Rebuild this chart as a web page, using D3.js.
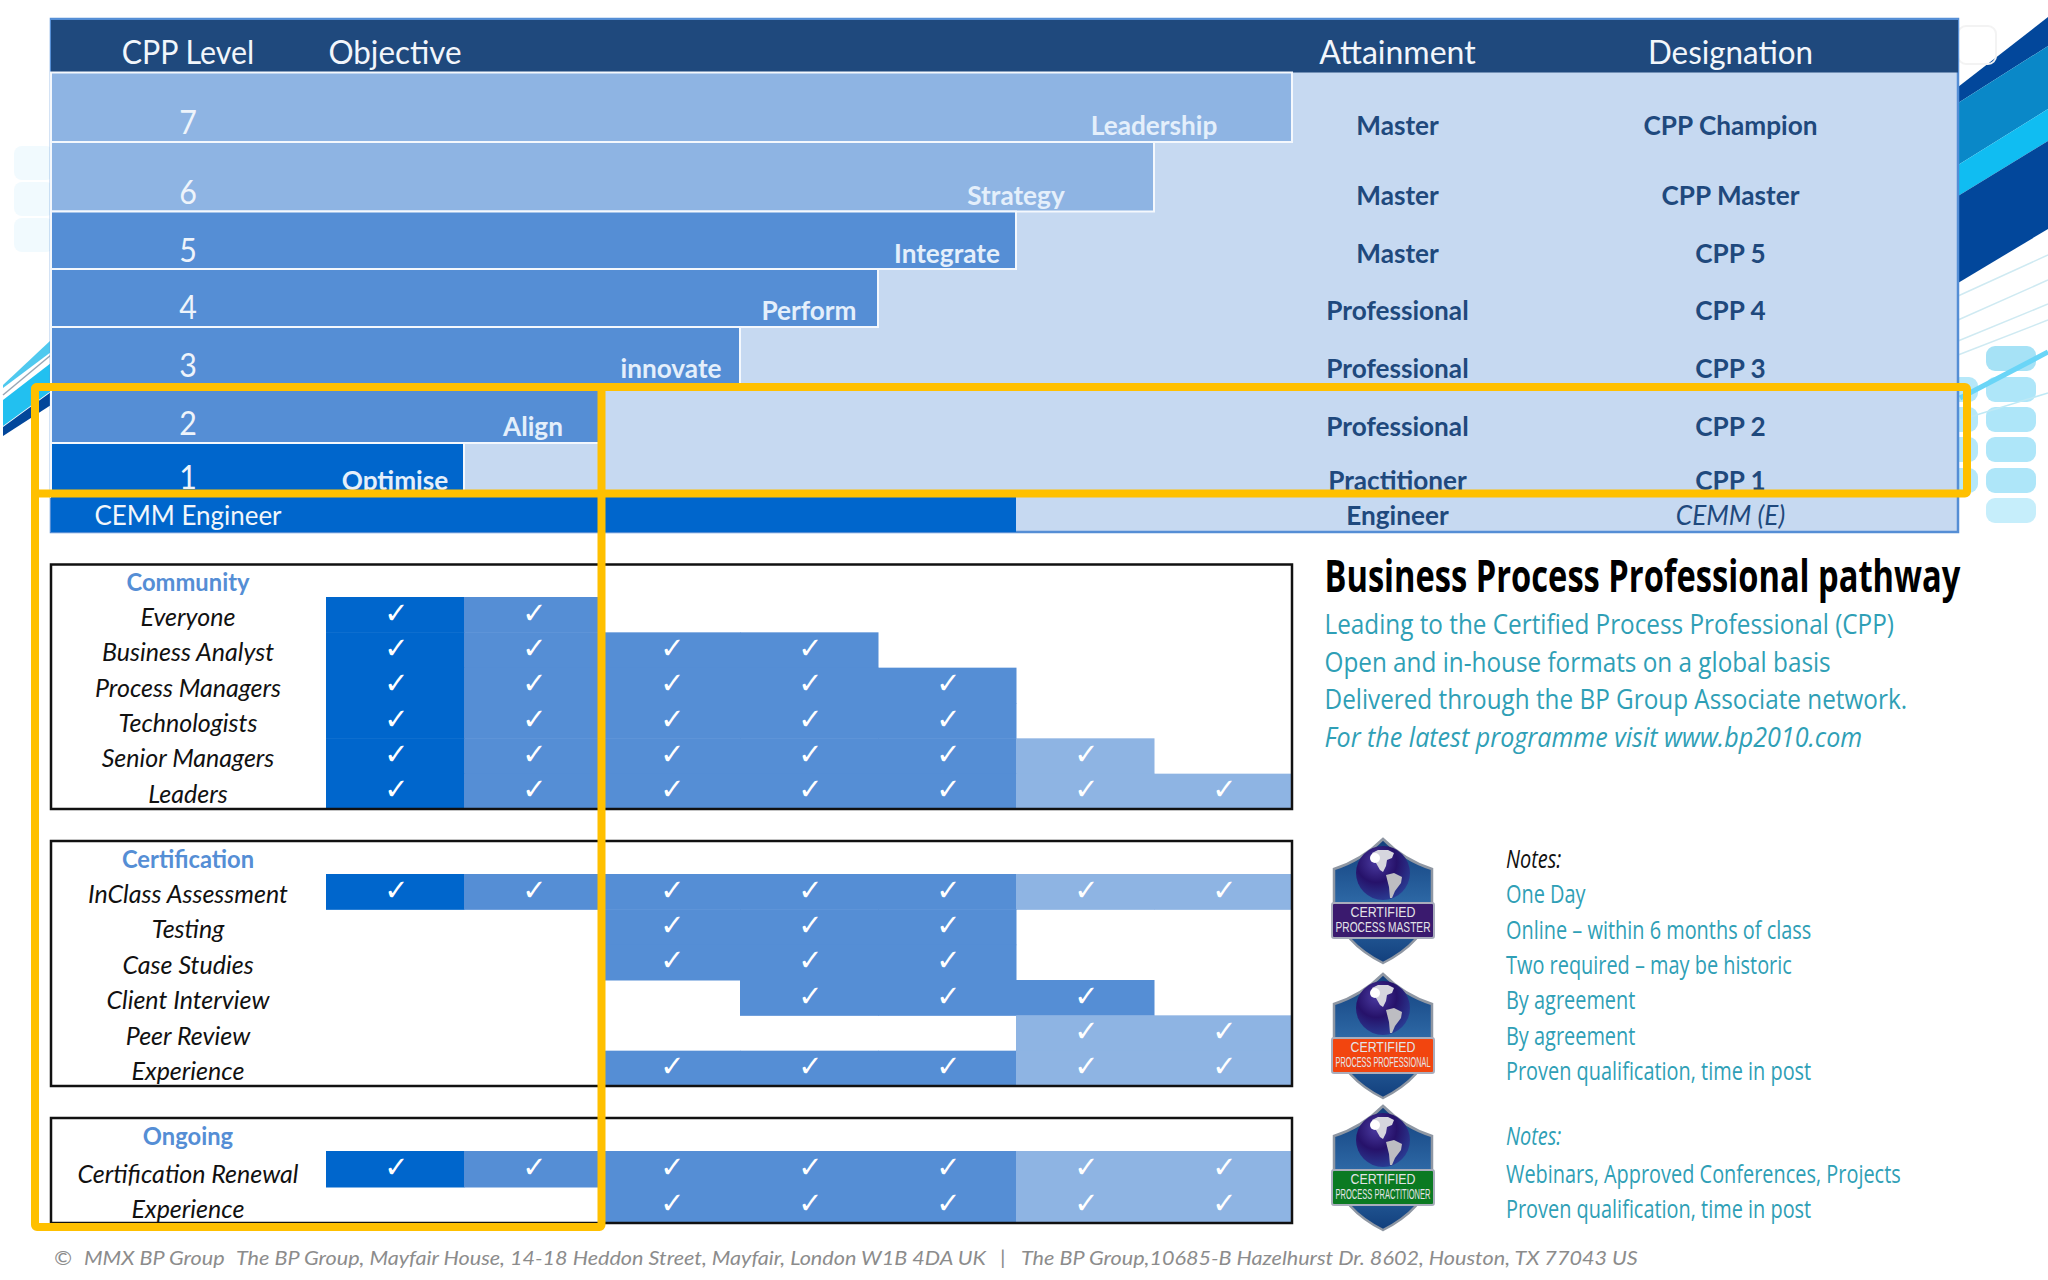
<!DOCTYPE html>
<html>
<head>
<meta charset="utf-8">
<title>Business Process Professional pathway</title>
<script src="https://cdn.jsdelivr.net/npm/d3@7"></script>
<style>
  html, body { margin: 0; padding: 0; background: #fff; }
  svg { display: block; }
  text { white-space: pre; }
</style>
</head>
<body>
<div id="chart"></div>
<script>
// ---- data ----
const levels = [7, 6, 5, 4, 3, 2, 1];
const objectives = ["Leadership", "Strategy", "Integrate", "Perform", "innovate", "Align", "Optimise"];
const objectiveSlots = [6, 5, 4.5, 3.5, 2.5, 1.5, 0.5]; // in column units
const attainments = ["Master", "Master", "Master", "Professional", "Professional", "Professional", "Practitioner"];
const designations = ["CPP Champion", "CPP Master", "CPP 5", "CPP 4", "CPP 3", "CPP 2", "CPP 1"];
const columns = [1, 2, 3, 4, 5, 6, 7];

const communityRoles = ["Everyone", "Business Analyst", "Process Managers", "Technologists", "Senior Managers", "Leaders"];
const communityLevels = [[1, 2], [1, 2, 3, 4], [1, 2, 3, 4, 5], [1, 2, 3, 4, 5], [1, 2, 3, 4, 5, 6], [1, 2, 3, 4, 5, 6, 7]];

const certificationRows = ["InClass Assessment", "Testing", "Case Studies", "Client Interview", "Peer Review", "Experience"];
const certificationLevels = [[1, 2, 3, 4, 5, 6, 7], [3, 4, 5], [3, 4, 5], [4, 5, 6], [6, 7], [3, 4, 5, 6, 7]];

const ongoingRows = ["Certification Renewal", "Experience"];
const ongoingLevels = [[1, 2, 3, 4, 5, 6, 7], [3, 4, 5, 6, 7]];

const introLines = ["Leading to the Certified Process Professional (CPP)", "Open and in-house formats on a global basis", "Delivered through the BP Group Associate network."];
const certificationNotes = ["One Day", "Online \u2013 within 6 months of class", "Two required \u2013 may be historic", "By agreement", "By agreement", "Proven qualification, time in post"];
const ongoingNotes = ["Webinars, Approved Conferences, Projects", "Proven qualification, time in post"];

// ---- layout ----
const W = 2048, H = 1280;
const tableLeft = 51, tableRight = 1958, tableTop = 19, headerBottom = 72.5;
const levelEdges = [72.5, 142, 211.5, 269, 327, 385, 443, 497];
const levelBaselines = [134, 203.5, 262, 319, 377, 435, 488.5];
const textBaselines = [135, 204.6, 262.5, 320, 378, 436, 489.5];
const levelX = 188, attainX = 1397.5, designX = 1730.5;

const DARK = "#0066cc", MID = "#558ed5", LIGHT = "#8eb4e3", PALE = "#c6d9f1", NAVY = "#1f497d", TEAL = "#2f9fb6", GOLD = "#ffc000";

const svg = d3.select("#chart").append("svg").attr("width", W).attr("height", H).attr("viewBox", "0 0 " + W + " " + H);
const defs = svg.append("defs");

const xBand = d3.scaleBand().domain(columns).range([326, 1292]);
const xSlot = d3.scaleLinear().domain([0, 7]).range([326, 1292]);

function levelColor(level) {
  if (level === 1) return DARK;
  return level <= 5 ? MID : LIGHT;
}

// text with a horizontal squeeze, the source fonts are all narrower than ours
function label(parent, x, y, str, o) {
  const t = parent.append("text")
    .attr("transform", "translate(" + x + "," + y + ") scale(" + (o.sx || 1) + ",1)")
    .attr("text-anchor", o.anchor || "middle")
    .attr("font-family", o.font || "Lato")
    .attr("font-size", o.size)
    .attr("font-weight", o.weight || "normal")
    .attr("font-style", o.italic ? "italic" : "normal")
    .attr("fill", o.fill)
    .text(str);
  return t;
}

// ---- background decoration ----
const deco = svg.append("g");
function poly(points, fill) { deco.append("polygon").attr("points", points.join(" ")).attr("fill", fill); }
function streak(x1, y1, x2, y2, stroke, w) {
  deco.append("line").attr("x1", x1).attr("y1", y1).attr("x2", x2).attr("y2", y2).attr("stroke", stroke).attr("stroke-width", w);
}
poly(["1958,87", "2048,17", "2048,46", "1958,103"], "#02479b");
poly(["1958,103", "2048,46", "2048,109", "1958,165"], "#0a88c8");
poly(["1958,165", "2048,109", "2048,141", "1958,196"], "#10bdf2");
poly(["1958,196", "2048,141", "2048,229", "1958,283"], "#02479b");
[[296, 255], [320, 280], [341, 304], [355, 320]].forEach(function(p) { streak(1958, p[0], 2048, p[1], "#cfeaf2", 1.5); });

[346, 377, 407, 437, 468, 498].forEach(function(y, i) {
  deco.append("rect").attr("x", 1986).attr("y", y).attr("width", 50).attr("height", 25).attr("rx", 9)
    .attr("fill", i === 5 ? "#c6eefb" : i === 0 ? "#a6e2f6" : "#aee6f9");
});
[377, 407, 437, 468].forEach(function(y) {
  deco.append("rect").attr("x", 1950).attr("y", y).attr("width", 28).attr("height", 25).attr("rx", 9).attr("fill", "#b6e8f9");
});
streak(1960, 398, 2048, 352, "#6ad5f7", 5);
streak(1960, 420, 2048, 393, "#bfe9f5", 1.5);
deco.append("rect").attr("x", 1958).attr("y", 26).attr("width", 38).attr("height", 38).attr("rx", 8)
  .attr("fill", "none").attr("stroke", "#f3f3f3").attr("stroke-width", 2);

poly(["3,385", "51,340", "51,352", "3,388"], "#4fc9ef");
streak(3, 395, 51, 355, "#9aa7b5", 1.5);
poly(["3,400", "51,363", "51,391", "3,426"], "#22c0f0");
poly(["3,427", "51,392", "51,405", "3,436"], "#02479b");
[146, 182, 218].forEach(function(y) {
  deco.append("rect").attr("x", 14).attr("y", y).attr("width", 40).attr("height", 34).attr("rx", 8).attr("fill", "#f1fafe");
});

// ---- pathway table ----
const table = svg.append("g");
table.append("rect").attr("x", tableLeft).attr("y", tableTop).attr("width", tableRight - tableLeft).attr("height", 532 - tableTop)
  .attr("fill", PALE).attr("stroke", MID).attr("stroke-width", 2.5);
table.append("rect").attr("x", tableLeft).attr("y", tableTop + 1).attr("width", tableRight - tableLeft).attr("height", headerBottom - tableTop - 1)
  .attr("fill", NAVY);

table.selectAll("rect.level").data(levels).join("rect")
  .attr("class", "level")
  .attr("x", tableLeft)
  .attr("y", function(d, i) { return levelEdges[i]; })
  .attr("width", function(d) { return xBand(d) + xBand.bandwidth() - tableLeft; })
  .attr("height", function(d, i) { return levelEdges[i + 1] - levelEdges[i]; })
  .attr("fill", levelColor)
  .attr("stroke", "#f4f8fd")
  .attr("stroke-width", 2);

table.append("rect").attr("x", tableLeft).attr("y", 497).attr("width", xBand(5) + xBand.bandwidth() - tableLeft).attr("height", 35).attr("fill", DARK);

const headStyle = { size: 32, fill: "#f2f6fb", sx: 0.98 };
label(table, levelX, 63.6, "CPP Level", Object.assign({}, headStyle, { sx: 0.95 }));
label(table, 328.5, 63.6, "Objective", Object.assign({}, headStyle, { anchor: "start" }));
label(table, attainX, 63.6, "Attainment", Object.assign({}, headStyle, { sx: 1.0 }));
label(table, designX, 63.6, "Designation", headStyle);

const boldCell = { size: 27, weight: "bold", fill: NAVY, sx: 0.97 };
levels.forEach(function(level, i) {
  label(table, levelX, levelBaselines[i], String(level), { size: 32, fill: "#eef4fb", sx: 0.95 });
  label(table, xSlot(objectiveSlots[i]), textBaselines[i], objectives[i], Object.assign({}, boldCell, { fill: "#e4effb" }));
  label(table, attainX, textBaselines[i], attainments[i], boldCell);
  label(table, designX, textBaselines[i], designations[i], boldCell);
});
label(table, levelX, 525, "CEMM Engineer", { size: 27, fill: "#f2f6fb", sx: 0.96 });
label(table, attainX, 525, "Engineer", boldCell);
label(table, designX, 525, "CEMM (E)", { size: 27, italic: true, fill: NAVY, sx: 0.97 });

// ---- the three requirement panels ----
function panel(title, rows, rowLevels, boxTop, rowTop, boxBottom, titleY, baselines) {
  const g = svg.append("g");
  const y = d3.scaleBand().domain(d3.range(rows.length)).range([rowTop, boxBottom]);

  const cells = [];
  rowLevels.forEach(function(list, r) {
    list.forEach(function(level) { cells.push({ row: r, level: level }); });
  });

  function cellColor(d) {
    if (rows[d.row] === "Client Interview") return MID; // this row stays mid blue up to level 6
    return levelColor(d.level);
  }

  g.selectAll("rect.cell").data(cells).join("rect")
    .attr("class", "cell")
    .attr("x", function(d) { return xBand(d.level); })
    .attr("y", function(d) { return y(d.row); })
    .attr("width", xBand.bandwidth() + 0.5)
    .attr("height", y.bandwidth() + 0.5)
    .attr("fill", cellColor);

  g.selectAll("text.tick-mark").data(cells).join("text")
    .attr("class", "tick-mark")
    .attr("x", function(d) { return xBand(d.level) + xBand.bandwidth() / 2 + 1.5; })
    .attr("y", function(d) { return y(d.row) + y.bandwidth() / 2 + 8; })
    .attr("text-anchor", "middle")
    .attr("font-family", "DejaVu Sans")
    .attr("font-size", 29)
    .attr("fill", "#fff")
    .text("\u2713");

  g.append("rect").attr("x", tableLeft).attr("y", boxTop).attr("width", 1292 - tableLeft).attr("height", boxBottom - boxTop)
    .attr("fill", "none").attr("stroke", "#111").attr("stroke-width", 2.5);

  label(g, levelX, titleY, title, { size: 25, weight: "bold", fill: MID, sx: 0.95 });
  rows.forEach(function(name, r) {
    label(g, levelX, baselines(r), name, { size: 25, italic: true, fill: "#111", sx: 1.0 });
  });
}

panel("Community", communityRoles, communityLevels, 564.5, 597, 809, 590.5, function(r) { return 626 + r * 35.3; });
panel("Certification", certificationRows, certificationLevels, 841, 874, 1086, 868, function(r) { return 903 + r * 35.4; });
panel("Ongoing", ongoingRows, ongoingLevels, 1118, 1151, 1223, 1145, function(r) { return 1183 + r * 35; });

// ---- text on the right ----
const side = svg.append("g");
label(side, 1324.5, 591.5, "Business Process Professional pathway", { font: "Open Sans", size: 44.5, weight: "bold", fill: "#000", anchor: "start", sx: 0.734 });
introLines.forEach(function(line, i) {
  label(side, 1324.5, 634 + i * 37.7, line, { font: "Open Sans", size: 28, fill: TEAL, anchor: "start", sx: 0.868 });
});
label(side, 1324.5, 746.5, "For the latest programme visit www.bp2010.com", { font: "Open Sans", size: 28, italic: true, fill: TEAL, anchor: "start", sx: 0.897 });

const noteStyle = { font: "Open Sans", size: 25, fill: TEAL, anchor: "start", sx: 0.797 };
label(side, 1506, 868, "Notes:", Object.assign({}, noteStyle, { fill: "#111", italic: true }));
certificationNotes.forEach(function(line, i) {
  label(side, 1506, 903.4 + i * 35.3, line, noteStyle);
});
label(side, 1506, 1145, "Notes:", Object.assign({}, noteStyle, { italic: true }));
ongoingNotes.forEach(function(line, i) {
  label(side, 1506, 1183 + i * 35, line, noteStyle);
});

// ---- badges ----
const shieldGrad = defs.append("linearGradient").attr("id", "shieldFill").attr("x1", 0).attr("y1", 0).attr("x2", 0).attr("y2", 1);
shieldGrad.append("stop").attr("offset", 0).attr("stop-color", "#123f7c");
shieldGrad.append("stop").attr("offset", 0.55).attr("stop-color", "#2f6ba8");
shieldGrad.append("stop").attr("offset", 1).attr("stop-color", "#123f7c");
const globeGrad = defs.append("radialGradient").attr("id", "globeFill").attr("cx", 0.38).attr("cy", 0.3).attr("r", 0.75);
globeGrad.append("stop").attr("offset", 0).attr("stop-color", "#4a3aa0");
globeGrad.append("stop").attr("offset", 0.5).attr("stop-color", "#26126a");
globeGrad.append("stop").attr("offset", 1).attr("stop-color", "#2a3f96");
defs.append("filter").attr("id", "soft").append("feGaussianBlur").attr("stdDeviation", 0.7);

function badge(top, ribbon, lineOne, lineTwo) {
  const g = svg.append("g").attr("transform", "translate(1383," + top + ")");
  g.append("path")
    .attr("d", "M0,0 C12,12 30,24 49,30 L49,64 C47,92 24,112 0,124 C-24,112 -47,92 -49,64 L-49,30 C-30,24 -12,12 0,0 Z")
    .attr("fill", "url(#shieldFill)").attr("stroke", "#8f97a3").attr("stroke-width", 2.5);
  g.append("circle").attr("cx", 0).attr("cy", 34).attr("r", 27).attr("fill", "url(#globeFill)");
  const land = g.append("g").attr("filter", "url(#soft)");
  land.append("path").attr("d", "M-11,14 L-5,11 L5,11 L11,14 L9,19 L4,21 L3,27 L0,33 L-3,31 L-7,24 Z").attr("fill", "#d6d6de");
  land.append("path").attr("d", "M3,36 L11,34 L19,38 L18,44 L12,52 L9,59 L7,59 L6,48 Z").attr("fill", "#bdbdc2");
  g.append("circle").attr("cx", -8).attr("cy", 19).attr("r", 5).attr("fill", "#ffffff").attr("filter", "url(#soft)");
  g.append("rect").attr("x", -51).attr("y", 64).attr("width", 102).attr("height", 35).attr("rx", 2)
    .attr("fill", ribbon).attr("stroke", "#a9adbc").attr("stroke-width", 2);
  g.append("text").attr("x", 0).attr("y", 78).attr("text-anchor", "middle").attr("font-family", "Liberation Sans")
    .attr("font-size", 15).attr("fill", "#e4e4e8").attr("textLength", 65).attr("lengthAdjust", "spacingAndGlyphs").text(lineOne);
  g.append("text").attr("x", 0).attr("y", 93).attr("text-anchor", "middle").attr("font-family", "Liberation Sans")
    .attr("font-size", 14).attr("fill", "#e4e4e8").attr("textLength", 95).attr("lengthAdjust", "spacingAndGlyphs").text(lineTwo);
}
badge(839, "#3a1a6e", "CERTIFIED", "PROCESS MASTER");
badge(974, "#f2450f", "CERTIFIED", "PROCESS PROFESSIONAL");
badge(1106, "#0b7a22", "CERTIFIED", "PROCESS PRACTITIONER");

// ---- footer ----
const footStyle = { size: 20, italic: true, fill: "#8c8c8c", anchor: "start", sx: 1.08 };
label(svg, 54, 1265, "\u00a9", footStyle);
label(svg, 84, 1265, "MMX BP Group", footStyle);
label(svg, 236, 1265, "The BP Group, Mayfair House, 14-18 Heddon Street, Mayfair, London W1B 4DA UK", footStyle);
label(svg, 1000, 1265, "|", footStyle);
label(svg, 1021, 1265, "The BP Group,10685-B Hazelhurst Dr. 8602, Houston, TX 77043 US", footStyle);

// ---- gold highlight frames go over everything ----
const frames = svg.append("g").attr("fill", "none").attr("stroke", GOLD).attr("stroke-width", 8);
frames.append("rect").attr("x", 35).attr("y", 387).attr("width", 1932).attr("height", 106.5).attr("rx", 2);
frames.append("rect").attr("x", 35).attr("y", 387).attr("width", 566.5).attr("height", 840).attr("rx", 2);
</script>
</body>
</html>
